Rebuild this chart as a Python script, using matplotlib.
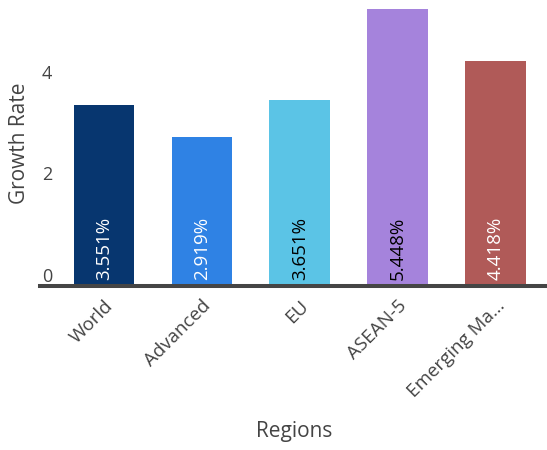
import numpy as np
import matplotlib.pyplot as plt

plt.rcParams['font.family'] = ['Open Sans', 'DejaVu Sans']

regions = ['World', 'Advanced', 'EU', 'ASEAN-5', 'Emerging Ma...']
growth = [3.551, 2.919, 3.651, 5.448, 4.418]
bar_colors = ['#07366f', '#2f82e4', '#5bc4e6', '#a583dc', '#b05a58']
label_colors = ['white', 'white', 'black', 'black', 'white']
yticks = [0, 2, 4]

W, H = 547, 450
fig = plt.figure(figsize=(W / 100, H / 100), dpi=100)
ax = fig.add_axes([40 / W, (H - 285.5) / H, (W - 40) / W, 285.5 / H])

x = np.arange(len(regions))
ax.bar(x, growth, width=0.62, color=bar_colors, zorder=1)

for xi, v, c in zip(x, growth, label_colors):
    ax.text(xi, 0.1, f'{v:.3f}%', rotation=90, ha='center', va='bottom',
            color=c, fontsize=13.5)

ax.set_xlim(-0.654, 4.525)
ax.set_ylim(0, 5.63)

for s in ['top', 'right', 'left']:
    ax.spines[s].set_visible(False)
ax.spines['bottom'].set_color('#454545')
ax.spines['bottom'].set_linewidth(2.9)
ax.spines['bottom'].set_zorder(3)

ax.set_yticks(yticks)
ax.set_yticklabels([str(t) for t in yticks])
ax.tick_params(axis='y', length=0, pad=-9, labelsize=13, labelcolor='#444444')
for lab in ax.get_yticklabels():
    lab.set_va('bottom')

ax.set_xticks(x)
ax.set_xticklabels(regions, rotation=45, ha='right', rotation_mode='anchor')
ax.tick_params(axis='x', length=0, pad=8, labelsize=13.5, labelcolor='#444444')

ax.set_ylabel('Growth Rate', fontsize=15, color='#444444', labelpad=7)
ax.set_xlabel('Regions', fontsize=15, color='#444444')
ax.xaxis.set_label_coords(0.501, -0.475)

fig.savefig('out.png', dpi=100)
